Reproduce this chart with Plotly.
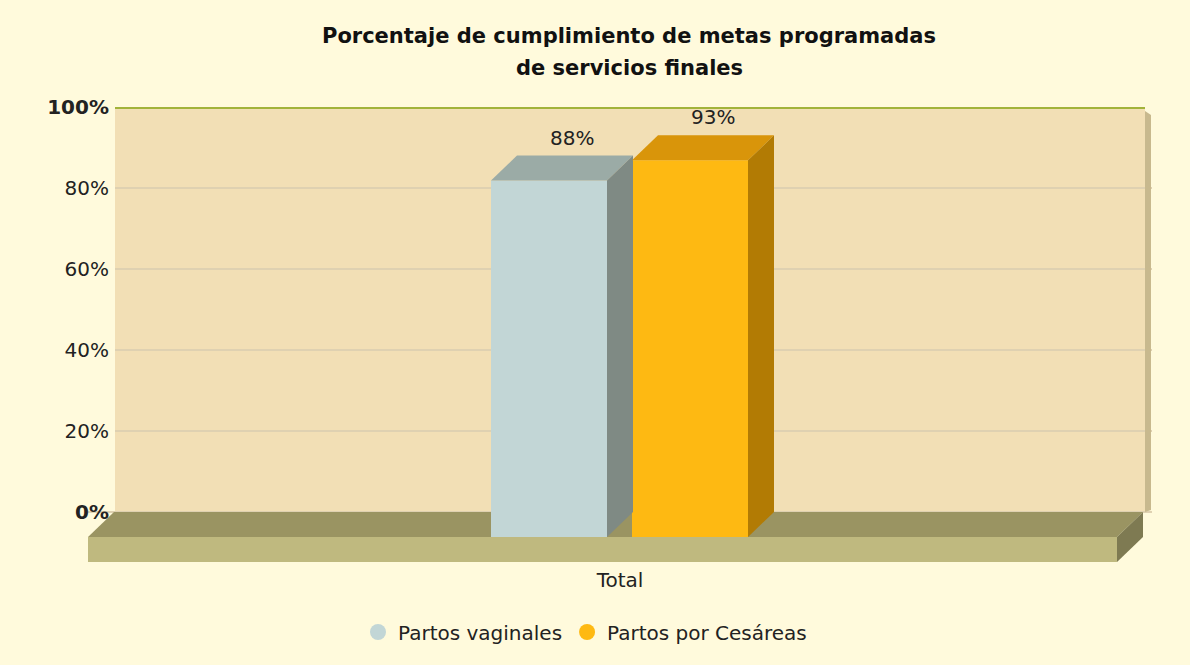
import plotly.graph_objects as go

# ---------------- data ----------------
categories = ["Total"]
series_names = ["Partos vaginales", "Partos por Cesáreas"]
values_vaginales = [88]
values_cesareas = [93]
y_tick_values = [0, 20, 40, 60, 80, 100]
y_tick_labels = ["<b>0%</b>", "20%", "40%", "60%", "80%", "<b>100%</b>"]
title_lines = ["Porcentaje de cumplimiento de metas programadas", "de servicios finales"]

# ---------------- styles / geometry (pixels) ----------------
W_FIG, H_FIG = 1190, 665
PX_L, PX_R, PX_T, PX_B = 88, 1152, 107, 562
PX_Y0 = 512                       # back-wall 0 %
PX_PER_UNIT = (PX_Y0 - PX_T) / 100.0
W_PLOT = PX_R - PX_L


def ux(p):
    return -0.5 + (p - PX_L) / W_PLOT


def dux(d):
    return d / W_PLOT


def uy(p):
    return (PX_Y0 - p) / PX_PER_UNIT


def duy(d):
    return d / PX_PER_UNIT


DXU = dux(26)        # depth (horizontal)
DYU = duy(25)        # depth (vertical)
BAR_W = dux(116)
BAR_OFFSETS = [ux(491), ux(632)]

PAPER = "#FFFADC"
WALL = "#F2DFB5"
GRID = "#DFD1B1"
FLOOR_TOP = "#9A9462"
FLOOR_FRONT = "#BFB97F"
FLOOR_SIDE = "#7E7A52"
WALL_SIDE = "#C8B98E"
WALL_TOP_LINE = "#A2B33A"
FRONT = ["#C2D6D6", "#FEB912"]
TOP = ["#9BABA6", "#D9950A"]
SIDE = ["#7F8A84", "#B27B04"]
FONT = "DejaVu Sans"
TXT = "#222222"
FS = 20

series_values = [values_vaginales, values_cesareas]

fig = go.Figure()

# front faces of the bars
for i, (name, vals) in enumerate(zip(series_names, series_values)):
    fig.add_trace(go.Bar(
        x=categories, y=vals, base=[-DYU] * len(vals),
        width=BAR_W, offset=BAR_OFFSETS[i],
        marker=dict(color=FRONT[i], line=dict(width=0)),
        showlegend=False, hoverinfo="skip", name=name,
    ))

# legend entries (circles)
for i, name in enumerate(series_names):
    fig.add_trace(go.Scatter(
        x=[None], y=[None], mode="markers", name=name,
        marker=dict(color=FRONT[i], size=18, symbol="circle"),
        showlegend=True,
    ))

shapes = []
wl, wr = ux(115), ux(1145)
# back wall
shapes.append(dict(type="rect", xref="x", yref="y", x0=wl, x1=wr, y0=0, y1=100,
                   fillcolor=WALL, line=dict(width=0), layer="below"))
# wall right thickness
shapes.append(dict(type="path", xref="x", yref="y",
                   path=f"M{wr},{100 - duy(4)} L{wr + dux(6)},{100 - duy(8)} L{wr + dux(6)},{duy(2)} L{wr},0 Z",
                   fillcolor=WALL_SIDE, line=dict(width=0), layer="between"))
# cover grid leak left of the wall
shapes.append(dict(type="rect", xref="x", yref="y", x0=-0.5, x1=wl, y0=0.3, y1=101,
                   fillcolor=PAPER, line=dict(width=0), layer="between"))
# wall top line
shapes.append(dict(type="line", xref="x", yref="y", x0=wl, x1=wr,
                   y0=100 - duy(1), y1=100 - duy(1),
                   line=dict(color=WALL_TOP_LINE, width=2), layer="between"))
# floor
fl, fr = ux(88), ux(1117)
shapes.append(dict(type="path", xref="x", yref="y",
                   path=f"M{fl},{-DYU} L{fr},{-DYU} L{fr + DXU},0 L{fl + DXU},0 Z",
                   fillcolor=FLOOR_TOP, line=dict(width=0), layer="between"))
shapes.append(dict(type="rect", xref="x", yref="y", x0=fl, x1=fr, y0=-2 * DYU, y1=-DYU,
                   fillcolor=FLOOR_FRONT, line=dict(width=0), layer="between"))
shapes.append(dict(type="path", xref="x", yref="y",
                   path=f"M{fr},{-DYU} L{fr + DXU},0 L{fr + DXU},{-DYU} L{fr},{-2 * DYU} Z",
                   fillcolor=FLOOR_SIDE, line=dict(width=0), layer="between"))

annotations = []
for i, vals in enumerate(series_values):
    for ci, v in enumerate(vals):
        x0 = ci + BAR_OFFSETS[i]
        x1 = x0 + BAR_W
        top_y = v - DYU
        # top face
        shapes.append(dict(type="path", xref="x", yref="y",
                           path=f"M{x0},{top_y} L{x1},{top_y} L{x1 + DXU},{v} L{x0 + DXU},{v} Z",
                           fillcolor=TOP[i], line=dict(width=0), layer="above"))
        # side face
        shapes.append(dict(type="path", xref="x", yref="y",
                           path=f"M{x1},{-DYU} L{x1},{top_y} L{x1 + DXU},{v} L{x1 + DXU},0 Z",
                           fillcolor=SIDE[i], line=dict(width=0), layer="above"))
        annotations.append(dict(x=(x0 + x1) / 2 + DXU * 0.9, y=v, xref="x", yref="y",
                                text=f"{v}%", showarrow=False, yanchor="bottom", yshift=4,
                                font=dict(family=FONT, size=FS, color=TXT)))

# title lines
for k, (line, py) in enumerate(zip(title_lines, [36, 68])):
    annotations.append(dict(x=(629 - PX_L) / W_PLOT, y=(PX_B - py) / (PX_B - PX_T),
                            xref="paper", yref="paper", text=f"<b>{line}</b>",
                            showarrow=False, xanchor="center", yanchor="middle",
                            font=dict(family=FONT, size=21, color="#111111")))

fig.update_layout(
    width=W_FIG, height=H_FIG, autosize=False,
    margin=dict(l=PX_L, r=W_FIG - PX_R, t=PX_T, b=H_FIG - PX_B, pad=0),
    paper_bgcolor=PAPER, plot_bgcolor=PAPER,
    barmode="overlay",
    shapes=shapes, annotations=annotations,
    xaxis=dict(type="category", range=[-0.5, 0.5], showgrid=False, zeroline=False,
               showline=False, ticks="", ticklabelstandoff=4,
               tickfont=dict(family=FONT, size=FS, color=TXT), fixedrange=True),
    yaxis=dict(range=[uy(PX_B), 100], anchor="free", position=(115 - PX_L) / W_PLOT,
               tickvals=y_tick_values, ticktext=y_tick_labels,
               showgrid=True, gridcolor=GRID, gridwidth=1.5, zeroline=False,
               showline=False, ticks="", ticklabelstandoff=6,
               tickfont=dict(family=FONT, size=FS, color=TXT), fixedrange=True),
    legend=dict(orientation="h", xref="container", yref="container",
                x=585 / W_FIG, y=1 - 632 / H_FIG, xanchor="center", yanchor="middle",
                font=dict(family=FONT, size=FS, color=TXT), bgcolor="rgba(0,0,0,0)",
                itemwidth=30),
    showlegend=True,
)

fig.write_html("out.html", config={"displayModeBar": False},
               post_script="document.body.style.margin='0';")
